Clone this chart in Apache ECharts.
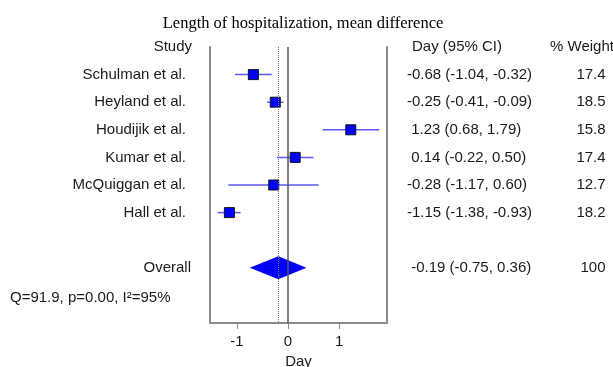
<!DOCTYPE html>
<html><head><meta charset="utf-8">
<script src="https://cdn.jsdelivr.net/npm/echarts@6/dist/echarts.min.js"></script>
<style>html,body{margin:0;padding:0;background:#fff}#c{width:613px;height:367px}</style>
</head><body><div id="c"></div>
<script>
const studies = ['Schulman et al.', 'Heyland et al.', 'Houdijik et al.', 'Kumar et al.', 'McQuiggan et al.', 'Hall et al.'];
const estimates = [-0.68, -0.25, 1.23, 0.14, -0.28, -1.15];
const lowerCI = [-1.04, -0.41, 0.68, -0.22, -1.17, -1.38];
const upperCI = [-0.32, -0.09, 1.79, 0.50, 0.60, -0.93];
const weights = [17.4, 18.5, 15.8, 17.4, 12.7, 18.2];
const overallLabel = 'Overall';
const overallEst = -0.19;
const overallLo = -0.75;
const overallHi = 0.36;
const overallWeight = 100;
const overallRow = 7;
const xTicks = [-1, 0, 1];
const heterogeneity = 'Q=91.9, p=0.00, I\u00B2=95%';

const FONT = "'Liberation Sans', Arial, sans-serif";
const TXT = '#1a1a1a';
const fmt = v => v.toFixed(2);
const ciText = (e, l, h) => (e >= 0 ? ' ' : '') + fmt(e) + ' (' + fmt(l) + ', ' + fmt(h) + ')';

const studyData = studies.map((s, i) => [estimates[i], i, lowerCI[i], upperCI[i], weights[i]]);

const chart = echarts.init(document.getElementById('c'), null, {renderer: 'canvas'});
chart.setOption({
  animation: false,
  title: {
    text: 'Length of hospitalization, mean difference',
    left: 298, top: 10, textAlign: 'center',
    textStyle: {fontFamily: "'Liberation Serif', 'Times New Roman', serif", fontSize: 16.5, fontWeight: 'normal', color: '#000'}
  },
  grid: {left: 210, right: 226, top: 47, bottom: 44, outerBoundsMode: 'none', containLabel: false},
  xAxis: {
    type: 'value', min: -1.53, max: 1.94,
    name: 'Day', nameLocation: 'middle', nameGap: 27,
    nameTextStyle: {fontFamily: FONT, fontSize: 15, color: TXT},
    axisLine: {show: true, onZero: false, lineStyle: {color: '#8a8a8a', width: 2}},
    axisTick: {show: true, length: 6, customValues: xTicks, lineStyle: {color: '#8a8a8a', width: 1}},
    axisLabel: {customValues: xTicks, fontFamily: FONT, fontSize: 15, color: TXT, margin: 11},
    splitLine: {show: false}
  },
  yAxis: [
    {type: 'value', min: -1, max: 9, inverse: true, position: 'left',
     axisLine: {show: true, onZero: false, lineStyle: {color: '#8a8a8a', width: 2}},
     axisTick: {show: false}, axisLabel: {show: false}, splitLine: {show: false}},
    {type: 'value', min: -1, max: 9, inverse: true, position: 'right',
     axisLine: {show: true, onZero: false, lineStyle: {color: '#8a8a8a', width: 2}},
     axisTick: {show: false}, axisLabel: {show: false}, splitLine: {show: false}}
  ],
  graphic: [
    {type: 'text', x: 192, y: 47, style: {text: 'Study', align: 'right', verticalAlign: 'middle', font: '15px ' + FONT, fill: TXT}},
    {type: 'text', x: 412, y: 47, style: {text: 'Day (95% CI)', align: 'left', verticalAlign: 'middle', font: '15px ' + FONT, fill: TXT}},
    {type: 'text', x: 550, y: 47, style: {text: '% Weight', align: 'left', verticalAlign: 'middle', font: '15px ' + FONT, fill: TXT}},
    {type: 'text', x: 10, y: 298, style: {text: heterogeneity, align: 'left', verticalAlign: 'middle', font: '15px ' + FONT, fill: TXT}}
  ],
  series: [
    {
      type: 'custom', clip: false,
      encode: {x: [0, 2, 3], y: 1},
      data: studyData,
      markLine: {
        silent: true, symbol: 'none', label: {show: false},
        data: [
          {xAxis: 0, lineStyle: {color: '#555', width: 1.5, type: 'solid'}},
          {xAxis: overallEst, lineStyle: {color: '#777', width: 1, type: [1, 1]}}
        ]
      },
      renderItem: (params, api) => {
        const i = api.value(1);
        const c = api.coord([api.value(0), i]);
        const l = api.coord([api.value(2), i]);
        const h = api.coord([api.value(3), i]);
        const s = 10;
        return {
          type: 'group',
          children: [
            {type: 'line', shape: {x1: l[0], y1: l[1], x2: h[0], y2: h[1]}, style: {stroke: 'rgba(0,0,255,0.65)', lineWidth: 1.5}},
            {type: 'rect', shape: {x: c[0] - s / 2, y: c[1] - s / 2, width: s, height: s}, style: {fill: '#0000ff', stroke: '#111', lineWidth: 1}},
            {type: 'text', x: 186, y: c[1], style: {text: studies[i], align: 'right', verticalAlign: 'middle', font: '15px ' + FONT, fill: TXT}},
            {type: 'text', x: 407, y: c[1], style: {text: ciText(api.value(0), api.value(2), api.value(3)), align: 'left', verticalAlign: 'middle', font: '15px ' + FONT, fill: TXT}},
            {type: 'text', x: 591, y: c[1], style: {text: String(api.value(4)), align: 'center', verticalAlign: 'middle', font: '15px ' + FONT, fill: TXT}}
          ]
        };
      }
    },
    {
      type: 'custom', clip: false,
      encode: {x: [0, 2, 3], y: 1},
      data: [[overallEst, overallRow, overallLo, overallHi, overallWeight]],
      renderItem: (params, api) => {
        const r = api.value(1);
        const c = api.coord([api.value(0), r]);
        const l = api.coord([api.value(2), r]);
        const h = api.coord([api.value(3), r]);
        const hh = 11.5;
        return {
          type: 'group',
          children: [
            {type: 'polygon', shape: {points: [[l[0], c[1]], [c[0], c[1] - hh], [h[0], c[1]], [c[0], c[1] + hh]]}, style: {fill: '#0000ff'}},
            {type: 'text', x: 191, y: c[1], style: {text: overallLabel, align: 'right', verticalAlign: 'middle', font: '15px ' + FONT, fill: TXT}},
            {type: 'text', x: 407, y: c[1], style: {text: ' ' + fmt(api.value(0)) + ' (' + fmt(api.value(2)) + ', ' + fmt(api.value(3)) + ')', align: 'left', verticalAlign: 'middle', font: '15px ' + FONT, fill: TXT}},
            {type: 'text', x: 593, y: c[1], style: {text: String(api.value(4)), align: 'center', verticalAlign: 'middle', font: '15px ' + FONT, fill: TXT}}
          ]
        };
      }
    }
  ]
});
</script>
</body></html>
